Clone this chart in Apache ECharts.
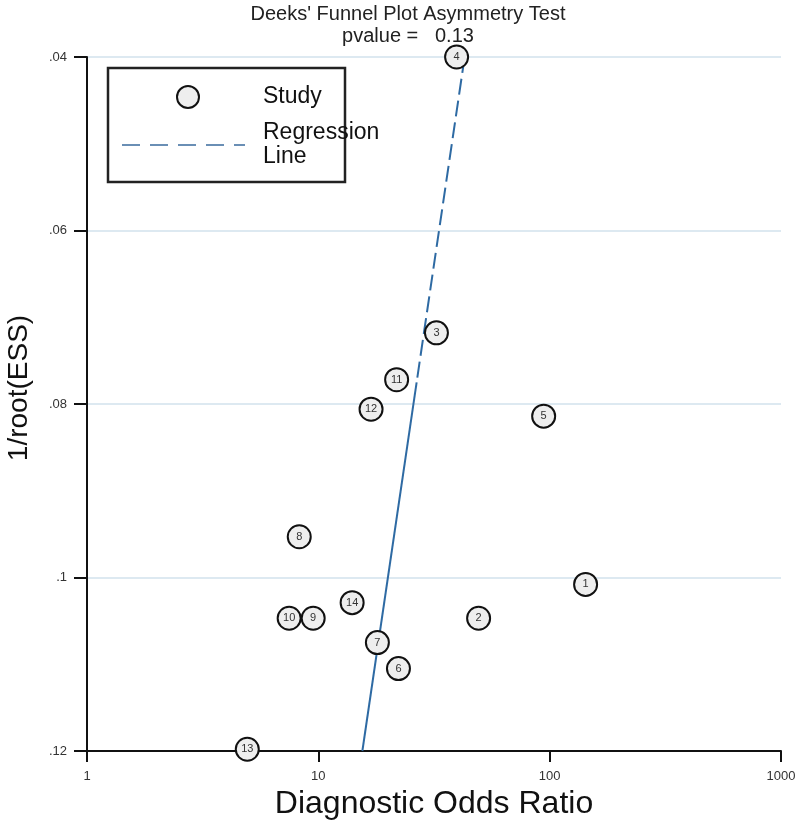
<!DOCTYPE html>
<html>
<head>
<meta charset="utf-8">
<script src="https://cdn.jsdelivr.net/npm/echarts@6/dist/echarts.min.js"></script>
<style>html,body{margin:0;padding:0;background:#fff}#c{width:800px;height:822px}</style>
</head>
<body>
<div id="c"></div>
<script>
// Data
const studyIds = ['1','2','3','4','5','6','7','8','9','10','11','12','13','14'];
const dor      = [143, 49.3, 32.4, 39.6, 94.2, 22.2, 18.0, 8.27, 9.5, 7.48, 21.8, 16.9, 4.93, 14.0];
const invRootEss = [0.1008, 0.1047, 0.0718, 0.0400, 0.0814, 0.1105, 0.1075, 0.0953, 0.1047, 0.1047, 0.0772, 0.0806, 0.1198, 0.1029];
// Regression line: dashed upper part, solid lower part
const regDashed = [[42.9, 0.04], [26.6, 0.0775]];
const regSolid  = [[26.6, 0.0775], [15.5, 0.12]];
const xTicks = [1, 10, 100, 1000];
const yTickLabels = {'0.04': '.04', '0.06': '.06', '0.08': '.08', '0.1': '.1', '0.12': '.12'};

const font = 'Liberation Sans, Arial, sans-serif';
const chart = echarts.init(document.getElementById('c'), null, {renderer: 'canvas'});
chart.setOption({
  animation: false,
  backgroundColor: '#ffffff',
  textStyle: {fontFamily: font},
  title: {
    text: "Deeks' Funnel Plot Asymmetry Test\npvalue =   0.13",
    left: 403, textAlign: 'center', top: -2,
    textStyle: {fontSize: 20, fontWeight: 'normal', color: '#222', lineHeight: 22, fontFamily: font}
  },
  grid: {left: 87, right: 19, top: 57, bottom: 71, containLabel: false, outerBoundsMode: 'none'},
  xAxis: {
    type: 'log', logBase: 10, min: 1, max: 1000,
    name: 'Diagnostic Odds Ratio', nameLocation: 'middle', nameGap: 30,
    nameTextStyle: {fontSize: 32, color: '#111', fontFamily: font},
    axisLine: {show: true, onZero: false, lineStyle: {color: '#111', width: 2}},
    axisTick: {show: true, length: 11, lineStyle: {color: '#111', width: 2}},
    axisLabel: {fontSize: 13, color: '#333', margin: 19,
      formatter: v => xTicks.includes(Math.round(v)) ? String(Math.round(v)) : ''},
    splitLine: {show: false}, minorTick: {show: false}
  },
  yAxis: {
    type: 'value', inverse: true, min: 0.04, max: 0.12, interval: 0.02,
    name: '',
    axisLine: {show: true, onZero: false, lineStyle: {color: '#111', width: 2}},
    axisTick: {show: true, length: 13, lineStyle: {color: '#111', width: 2}},
    axisLabel: {fontSize: 13, color: '#333', margin: 20,
      formatter: v => yTickLabels[String(+v.toFixed(2))] || ''},
    splitLine: {show: true, lineStyle: {color: '#dde9f1', width: 2}}
  },
  graphic: [
    {type: 'text', x: 19, y: 388, rotation: Math.PI / 2, z: 11,
     style: {text: '1/root(ESS)', fill: '#111', align: 'center', verticalAlign: 'middle', font: '28px ' + font}},
    {type: 'rect', shape: {x: 108, y: 68, width: 237, height: 114},
     style: {fill: '#fff', stroke: '#222', lineWidth: 2.5}, z: 10},
    {type: 'circle', shape: {cx: 188, cy: 97, r: 11},
     style: {fill: '#eeeeee', stroke: '#111', lineWidth: 2}, z: 11},
    {type: 'line', shape: {x1: 122, y1: 145, x2: 245, y2: 145},
     style: {stroke: '#6a8fb5', lineWidth: 2, lineDash: [18, 10]}, z: 11},
    {type: 'text', x: 263, y: 97, z: 11,
     style: {text: 'Study', fill: '#111', verticalAlign: 'middle', font: '23px ' + font}},
    {type: 'text', x: 263, y: 133, z: 11,
     style: {text: 'Regression', fill: '#111', verticalAlign: 'middle', font: '23px ' + font}},
    {type: 'text', x: 263, y: 157, z: 11,
     style: {text: 'Line', fill: '#111', verticalAlign: 'middle', font: '23px ' + font}}
  ],
  series: [
    {type: 'line', data: regDashed, symbol: 'none', z: 2,
     lineStyle: {color: '#2e6aa3', width: 2, type: [16, 6]}},
    {type: 'line', data: regSolid, symbol: 'none', z: 2,
     lineStyle: {color: '#2e6aa3', width: 2, type: 'solid'}},
    {type: 'scatter', z: 5, symbol: 'circle', symbolSize: 23,
     data: dor.map((x, i) => ({value: [x, invRootEss[i]], name: studyIds[i]})),
     itemStyle: {color: '#eeeeee', borderColor: '#111', borderWidth: 2, opacity: 1},
     label: {show: true, position: 'inside', formatter: p => p.name, fontSize: 11,
       color: '#333', fontFamily: font}}
  ]
});
</script>
</body>
</html>
